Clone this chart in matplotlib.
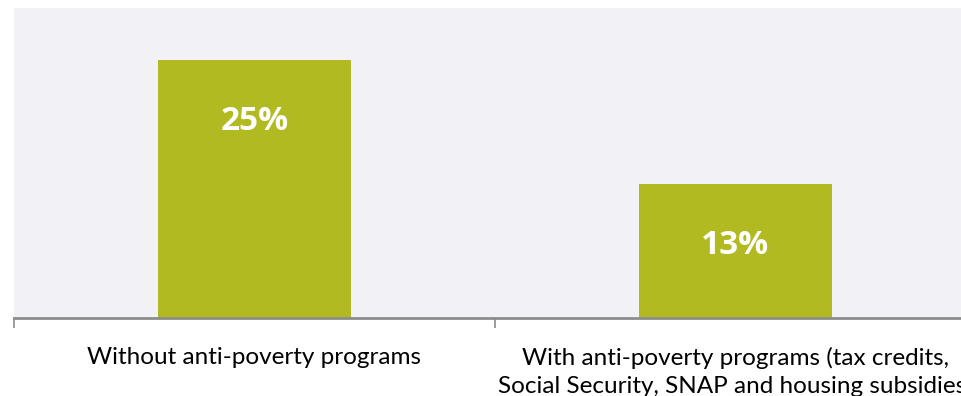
import matplotlib.pyplot as plt

categories = ['Without anti-poverty programs',
              'With anti-poverty programs (tax credits,\nSocial Security, SNAP and housing subsidies)']
poverty_rate = [25, 13]

plt.rcParams['font.family'] = ['Lato', 'DejaVu Sans']

fig = plt.figure(figsize=(9.61, 3.96), dpi=100)
ax = fig.add_axes([14 / 961, 78 / 396, 962 / 961, 310 / 396])
ax.set_facecolor('#f2f2f6')

x = range(len(categories))
bars = ax.bar(x, poverty_rate, width=0.4, color='#b2ba22')
for b, v in zip(bars, poverty_rate):
    ax.text(b.get_x() + b.get_width() / 2, v - 6.0, f'{v}%', ha='center', va='center',
            color='white', fontsize=24, fontweight='bold', family='Open Sans')

ax.set_xlim(-0.5, 1.5)
ax.set_ylim(0, 30)
ax.set_yticks([])
ax.set_xticks([-0.5, 0.5, 1.5])
ax.set_xticklabels([])
ax.set_xticks(list(x), categories, minor=True)
ax.tick_params(axis='x', which='major', length=7, width=1.2, color='#8c8c8c')
ax.tick_params(axis='x', which='minor', length=0, pad=21, labelsize=17.5)
for lbl in ax.get_xticklabels(minor=True):
    lbl.set_linespacing(1.3)
for s in ['top', 'right', 'left']:
    ax.spines[s].set_visible(False)
ax.spines['bottom'].set_color('#8c8c8c')
ax.spines['bottom'].set_linewidth(2)

fig.savefig('out.png', dpi=100)
